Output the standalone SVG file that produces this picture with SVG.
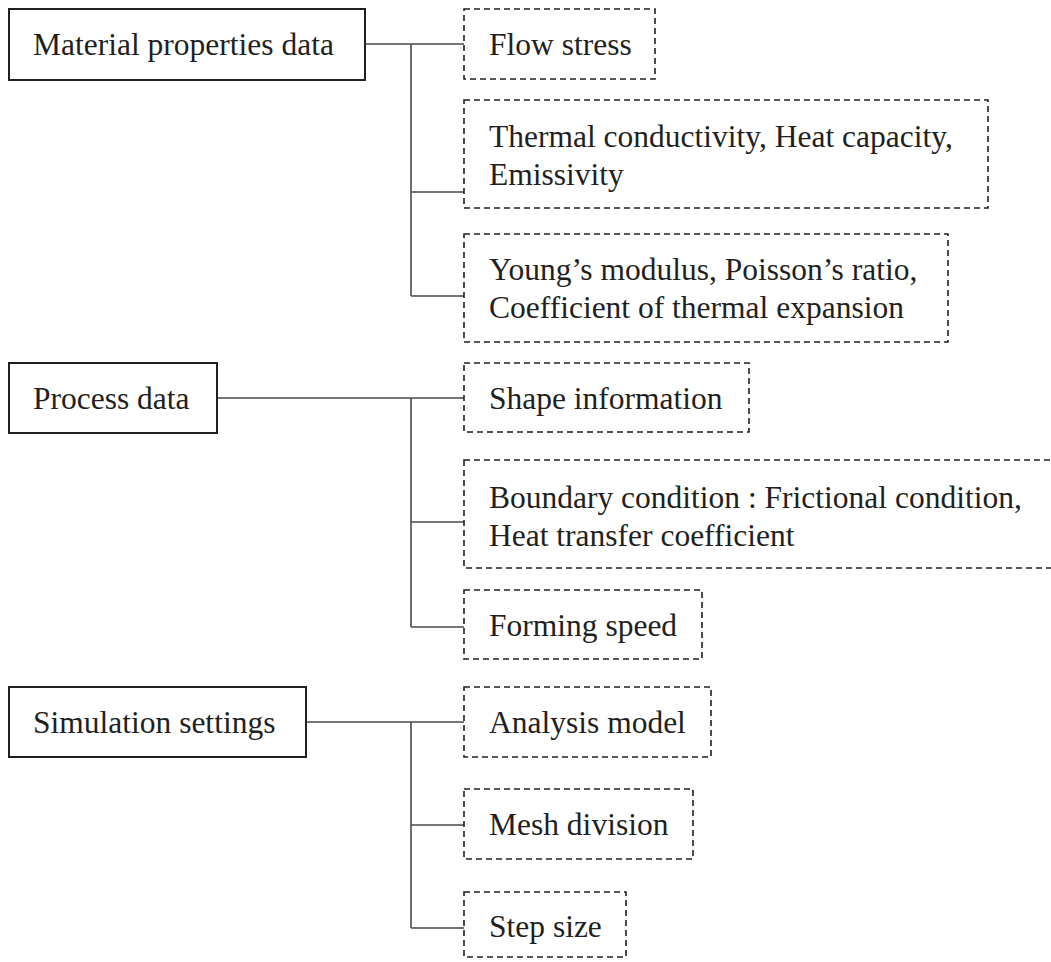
<svg xmlns="http://www.w3.org/2000/svg" width="1051" height="962" viewBox="0 0 1051 962">
  <style>
    .main { fill: #ffffff; stroke: #231f20; stroke-width: 2; }
    .item { fill: #ffffff; stroke: #231f20; stroke-width: 1.6; stroke-dasharray: 6 4; }
    .link { fill: none; stroke: #4a4a4a; stroke-width: 1.6; }
    text { font-family: "Liberation Serif", "Times New Roman", serif; font-size: 31.5px; fill: #231f20; }
  </style>
  <rect x="0" y="0" width="1051" height="962" fill="#ffffff"/>

  <!-- connectors -->
  <g id="connectors">
    <!-- material properties branch -->
    <path class="link" d="M365 44 H464 M411 44 V296 M411 192 H464 M411 296 H464"/>
    <!-- process branch -->
    <path class="link" d="M217 398 H464 M411 398 V627 M411 522 H464 M411 627 H464"/>
    <!-- simulation branch -->
    <path class="link" d="M306 722 H464 M411 722 V928 M411 825 H464 M411 928 H464"/>
  </g>

  <!-- category nodes -->
  <g id="material-properties">
    <rect class="main" x="9" y="9" width="356" height="71"/>
    <text x="33" y="55">Material properties data</text>
  </g>
  <g id="process-data">
    <rect class="main" x="9" y="363" width="208" height="70"/>
    <text x="33" y="409">Process data</text>
  </g>
  <g id="simulation-settings">
    <rect class="main" x="9" y="687" width="297" height="70"/>
    <text x="33" y="733">Simulation settings</text>
  </g>

  <!-- item nodes -->
  <g id="flow-stress">
    <rect class="item" x="464" y="9" width="191" height="70"/>
    <text x="489" y="55">Flow stress</text>
  </g>
  <g id="thermal">
    <rect class="item" x="464" y="100" width="524" height="108"/>
    <text x="489" y="147">Thermal conductivity, Heat capacity,</text>
    <text x="489" y="185">Emissivity</text>
  </g>
  <g id="elastic">
    <rect class="item" x="464" y="234" width="484" height="108"/>
    <text x="489" y="280">Young’s modulus, Poisson’s ratio,</text>
    <text x="489" y="318">Coefficient of thermal expansion</text>
  </g>
  <g id="shape-information">
    <rect class="item" x="464" y="363" width="285" height="69"/>
    <text x="489" y="409">Shape information</text>
  </g>
  <g id="boundary-condition">
    <rect class="item" x="464" y="460" width="620" height="108"/>
    <text x="489" y="508">Boundary condition : Frictional condition,</text>
    <text x="489" y="546">Heat transfer coefficient</text>
  </g>
  <g id="forming-speed">
    <rect class="item" x="464" y="590" width="238" height="69"/>
    <text x="489" y="636">Forming speed</text>
  </g>
  <g id="analysis-model">
    <rect class="item" x="464" y="687" width="247" height="70"/>
    <text x="489" y="733">Analysis model</text>
  </g>
  <g id="mesh-division">
    <rect class="item" x="464" y="789" width="229" height="70"/>
    <text x="489" y="835">Mesh division</text>
  </g>
  <g id="step-size">
    <rect class="item" x="464" y="892" width="162" height="65"/>
    <text x="489" y="937">Step size</text>
  </g>
</svg>
